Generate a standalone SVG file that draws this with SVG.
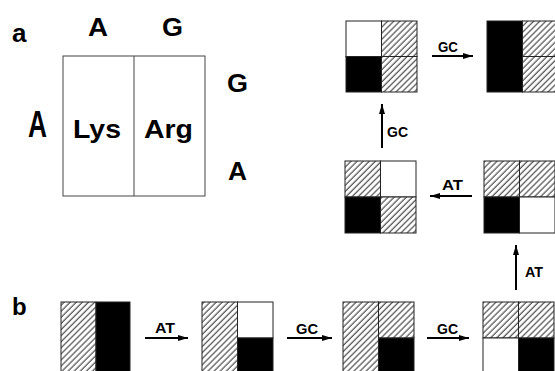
<svg xmlns="http://www.w3.org/2000/svg" width="555" height="371" viewBox="0 0 555 371">
  <defs>
    <pattern id="hatch" patternUnits="userSpaceOnUse" width="4.3" height="10" patternTransform="rotate(45)">
      <rect width="4.3" height="10" fill="#fff"/>
      <line x1="1" y1="0" x2="1" y2="10" stroke="#111" stroke-width="0.9"/>
    </pattern>
    <marker id="head" markerUnits="userSpaceOnUse" markerWidth="11" markerHeight="8" refX="10" refY="4" orient="auto">
      <path d="M0,1 L10,4 L0,7 Z" fill="#000"/>
    </marker>
  </defs>
  <style>
    .lbl { font-family: "Liberation Sans", Arial, sans-serif; font-weight: bold; fill: #000; }
    .big { font-size: 25px; }
    .arr { font-size: 15px; }
    .cell { stroke: #222; stroke-width: 1; }
    .w { fill: #fff; }
    .h { fill: url(#hatch); }
    .b { fill: #000; }
    .conn { stroke: #000; stroke-width: 2; fill: none; marker-end: url(#head); }
    .frame { fill: none; stroke: #444; stroke-width: 1; }
  </style>

  <!-- panel letters -->
  <text class="lbl" x="12" y="42" font-size="26">a</text>
  <text class="lbl" x="12" y="315" font-size="24">b</text>

  <!-- codon table -->
  <g id="codon-table">
    <rect class="frame" x="63" y="56" width="142" height="140"/>
    <line class="frame" x1="134" y1="56" x2="134" y2="196"/>
    <text class="lbl big" x="88" y="36" textLength="20" lengthAdjust="spacingAndGlyphs">A</text>
    <text class="lbl big" x="162" y="36" textLength="21" lengthAdjust="spacingAndGlyphs">G</text>
    <text class="lbl big" x="227" y="92" textLength="21" lengthAdjust="spacingAndGlyphs">G</text>
    <text class="lbl big" x="228" y="180" textLength="19" lengthAdjust="spacingAndGlyphs">A</text>
    <text class="lbl" x="28" y="137" font-size="36" textLength="19" lengthAdjust="spacingAndGlyphs">A</text>
    <text class="lbl big" x="73" y="138" textLength="48" lengthAdjust="spacingAndGlyphs">Lys</text>
    <text class="lbl big" x="144" y="138" textLength="49" lengthAdjust="spacingAndGlyphs">Arg</text>
  </g>

  <!-- state grids: each square split in quarters -->
  <g id="s-top-1">
    <rect class="cell w" x="346" y="21" width="35.5" height="35.5"/>
    <rect class="cell h" x="381.5" y="21" width="35.5" height="35.5"/>
    <rect class="cell b" x="346" y="56.5" width="35.5" height="35.5"/>
    <rect class="cell h" x="381.5" y="56.5" width="35.5" height="35.5"/>
  </g>
  <g id="s-top-2">
    <rect class="cell b" x="487" y="21" width="35.5" height="71"/>
    <rect class="cell h" x="522.5" y="21" width="35.5" height="35.5"/>
    <rect class="cell h" x="522.5" y="56.5" width="35.5" height="35.5"/>
  </g>
  <g id="s-mid-1">
    <rect class="cell h" x="345" y="161" width="35.5" height="36"/>
    <rect class="cell w" x="380.5" y="161" width="35.5" height="36"/>
    <rect class="cell b" x="345" y="197" width="35.5" height="36"/>
    <rect class="cell h" x="380.5" y="197" width="35.5" height="36"/>
  </g>
  <g id="s-mid-2">
    <rect class="cell h" x="484" y="161" width="35.5" height="36"/>
    <rect class="cell h" x="519.5" y="161" width="35.5" height="36"/>
    <rect class="cell b" x="484" y="197" width="35.5" height="36"/>
    <rect class="cell w" x="519.5" y="197" width="35.5" height="36"/>
  </g>
  <g id="s-bot-1">
    <rect class="cell h" x="61" y="302" width="35" height="72"/>
    <rect class="cell b" x="96" y="302" width="34" height="72"/>
  </g>
  <g id="s-bot-2">
    <rect class="cell h" x="202" y="302" width="35.5" height="72"/>
    <rect class="cell w" x="237.5" y="302" width="35.5" height="36"/>
    <rect class="cell b" x="237.5" y="338" width="35.5" height="36"/>
  </g>
  <g id="s-bot-3">
    <rect class="cell h" x="343" y="302" width="35.5" height="72"/>
    <rect class="cell h" x="378.5" y="302" width="35.5" height="36"/>
    <rect class="cell b" x="378.5" y="338" width="35.5" height="36"/>
  </g>
  <g id="s-bot-4">
    <rect class="cell h" x="483" y="302" width="35.5" height="36"/>
    <rect class="cell h" x="518.5" y="302" width="35.5" height="36"/>
    <rect class="cell w" x="483" y="338" width="35.5" height="36"/>
    <rect class="cell b" x="518.5" y="338" width="35.5" height="36"/>
  </g>

  <!-- transitions -->
  <g id="connectors">
    <line class="conn" x1="432" y1="56" x2="473" y2="56"/>
    <line class="conn" x1="382" y1="148" x2="382" y2="104"/>
    <line class="conn" x1="472" y1="196" x2="430" y2="196"/>
    <line class="conn" x1="516" y1="290" x2="516" y2="245"/>
    <line class="conn" x1="145" y1="338" x2="188" y2="338"/>
    <line class="conn" x1="287" y1="338" x2="332" y2="338"/>
    <line class="conn" x1="427" y1="338" x2="469" y2="338"/>
    <text class="lbl arr" x="438" y="52" textLength="20" lengthAdjust="spacingAndGlyphs">GC</text>
    <text class="lbl arr" x="387" y="137" textLength="21" lengthAdjust="spacingAndGlyphs">GC</text>
    <text class="lbl arr" x="442" y="190" textLength="21" lengthAdjust="spacingAndGlyphs">AT</text>
    <text class="lbl arr" x="525" y="277" textLength="18" lengthAdjust="spacingAndGlyphs">AT</text>
    <text class="lbl arr" x="155" y="333" textLength="20" lengthAdjust="spacingAndGlyphs">AT</text>
    <text class="lbl arr" x="296" y="334" textLength="22" lengthAdjust="spacingAndGlyphs">GC</text>
    <text class="lbl arr" x="437" y="334" textLength="21" lengthAdjust="spacingAndGlyphs">GC</text>
  </g>
</svg>
